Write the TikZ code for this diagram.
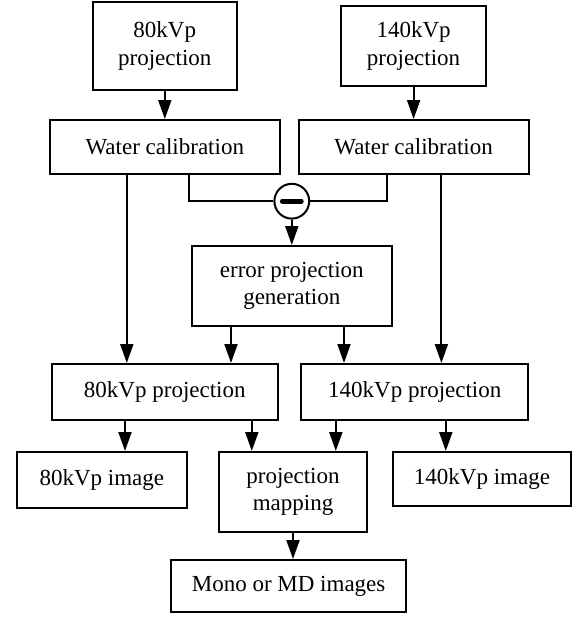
\documentclass[tikz,border=0pt]{standalone}
\usepackage{fontspec}
\setmainfont{Liberation Serif}
\usetikzlibrary{positioning, arrows.meta}

\begin{document}
\begin{tikzpicture}[on grid, line width=1pt,
                    box/.style={draw, rectangle, align=center, inner sep=0pt,
                                font=\fontsize{11.5}{13.7}\selectfont},
                    wide/.style={box, minimum width=115pt, minimum height=27pt},
                    arr/.style={-{Triangle[length=9.5pt, width=6.5pt]}}]
    \useasboundingbox (0,0) rectangle (289.5pt,-309pt);

    % Inputs and water calibration
    \node[box, minimum width=72pt, minimum height=44pt] (projA) at (82.4pt,-22.9pt) {80kVp\\projection};
    \node[wide] (wcL) [below=50.6pt of projA] {Water calibration};
    \node[wide] (wcR) [right=124.4pt of wcL] {Water calibration};
    \node[box, minimum width=72.4pt, minimum height=40.2pt] (projB) [above=50.6pt of wcR] {140kVp\\projection};

    % Difference and error projection
    \node[draw, circle, minimum size=17.4pt, inner sep=0pt] (minus) at (145.9pt,-100.6pt) {};
    \draw[line width=2.3pt, line cap=round] ([xshift=-4.8pt]minus.center) -- ([xshift=4.8pt]minus.center);
    \node[box, minimum width=100pt, minimum height=40pt] (err) [below=42.4pt of minus] {error projection\\generation};

    % Corrected projections
    \node[box, minimum width=113pt, minimum height=28pt] (p80) [below=122.5pt of wcL] {80kVp projection};
    \node[box, minimum width=113.3pt, minimum height=28pt] (p140) [right=125pt of p80] {140kVp projection};

    % Outputs
    \node[box, minimum width=85pt, minimum height=28.2pt] (img80) at (50.9pt,-240.1pt) {80kVp image};
    \node[box, minimum width=74.3pt, minimum height=39.8pt] (map) at (146.5pt,-245.9pt) {projection\\mapping};
    \node[box, minimum width=89pt, minimum height=27pt] (img140) at (241pt,-239.5pt) {140kVp image};
    \node[box, minimum width=117.8pt, minimum height=26.2pt] (mono) at (144.3pt,-293.1pt) {Mono or MD images};

    % Columns of the vertical connectors
    \coordinate (xL1) at (63.4pt,0);
    \coordinate (xL2) at (94.5pt,0);
    \coordinate (xR1) at (193.4pt,0);
    \coordinate (xR2) at (220.7pt,0);
    \coordinate (xE1) at (115.5pt,0);
    \coordinate (xE2) at (172pt,0);
    \coordinate (xP1) at (62.5pt,0);
    \coordinate (xP2) at (125.9pt,0);
    \coordinate (xQ1) at (167.9pt,0);
    \coordinate (xQ2) at (222.9pt,0);

    % Connectors
    \draw[arr] (projA.south) -- (wcL.north);
    \draw[arr] (projB.south) -- (projB.south |- wcR.north);
    \draw (wcL.south -| xL2) |- (minus.west);
    \draw (wcR.south -| xR1) |- (minus.east);
    \draw[arr] (minus.south) -- (err.north);
    \draw[arr] (wcL.south -| xL1) -- (p80.north -| xL1);
    \draw[arr] (wcR.south -| xR2) -- (p140.north -| xR2);
    \draw[arr] (err.south -| xE1) -- (p80.north -| xE1);
    \draw[arr] (err.south -| xE2) -- (p140.north -| xE2);
    \draw[arr] (p80.south -| xP1) -- (img80.north -| xP1);
    \draw[arr] (p80.south -| xP2) -- (map.north -| xP2);
    \draw[arr] (p140.south -| xQ1) -- (map.north -| xQ1);
    \draw[arr] (p140.south -| xQ2) -- (img140.north -| xQ2);
    \draw[arr] (map.south) -- (map.south |- mono.north);

\end{tikzpicture}
\end{document}
